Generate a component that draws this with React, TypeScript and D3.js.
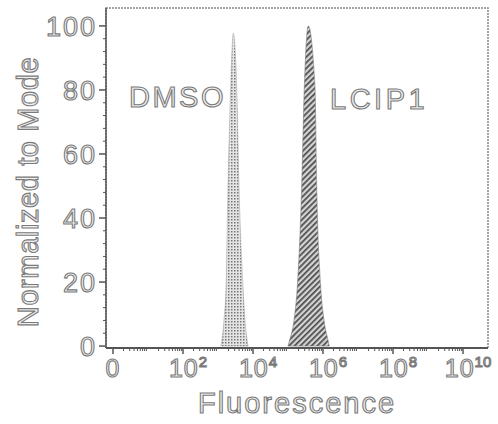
import React from "react";
import * as d3 from "d3";

// Peak shapes: x = log10 fluorescence exponent, y = % of mode
const dmsoX = [3.08, 3.106, 3.171, 3.229, 3.286, 3.363, 3.437, 3.534, 3.6, 3.714, 3.771, 3.837, 3.86];
const dmsoY = [0, 1.5, 8.1, 18.5, 49.8, 81, 97.7, 81, 49.8, 18.5, 8.1, 1.5, 0];
const lcipX = [5.0, 5.037, 5.171, 5.266, 5.391, 5.466, 5.58, 5.771, 5.82, 5.934, 6.029, 6.151, 6.18];
const lcipY = [0, 1.5, 8.1, 18.5, 49.8, 81, 100, 81, 49.8, 18.5, 8.1, 1.5, 0];

const yTicks = [0, 20, 40, 60, 80, 100];
const xTickExps = [0, 2, 4, 6, 8, 10];
const xTickLabels = ["0", "10", "10", "10", "10", "10"];
const xTickSups = ["", "2", "4", "6", "8", "10"];
const labels = ["DMSO", "LCIP1"];

const W = 498, H = 424;
const L = 106, R = 488, T = 8, B = 348;

export default function App() {
  const x = d3.scaleLinear().domain([-0.2, 10.714]).range([L, R]);
  const y = d3.scaleLinear().domain([-0.6, 105.6]).range([B, T]);
  const area = d3
    .area<[number, number]>()
    .x((d) => x(d[0]))
    .y0(y(0))
    .y1((d) => y(d[1]))
    .curve(d3.curveMonotoneX);
  const dmso = dmsoX.map((v, i) => [v, dmsoY[i]] as [number, number]);
  const lcip = lcipX.map((v, i) => [v, lcipY[i]] as [number, number]);

  const yMinor = d3.range(0, 104, 4).filter((v) => v % 20 !== 0);
  const xMinor: number[] = [];
  for (let k = 0; k < 10; k++) {
    for (let m = 2; m <= 9; m++) xMinor.push(k + Math.log10(m));
  }
  const axisColor = "#555";
  const textStyle = {
    fontFamily: "Liberation Sans, Arial, sans-serif",
    fill: "#f0f0f0",
    stroke: "#7a7a7a",
    strokeWidth: 1.1,
  } as const;

  return (
    <svg width={W} height={H} style={{ position: "absolute", left: 0, top: 0, background: "#fff" }}>
      <defs>
        <pattern id="dots" width="3" height="3" patternUnits="userSpaceOnUse">
          <rect width="3" height="3" fill="#e4e4e4" />
          <rect width="1.5" height="1.5" fill="#777" />
        </pattern>
        <pattern id="hatch" width="4" height="4" patternUnits="userSpaceOnUse" patternTransform="rotate(45)">
          <rect width="4" height="4" fill="#d4d4d4" />
          <rect width="1.7" height="4" fill="#4a4a4a" />
        </pattern>
      </defs>
      {/* frame */}
      <rect x={L} y={T} width={R - L} height={B - T} fill="none" stroke="#888" strokeWidth={1.5} strokeDasharray="2 1" />
      {/* peaks */}
      <path d={area(dmso) || ""} fill="url(#dots)" stroke="#aaa" strokeWidth={0.6} />
      <path d={area(lcip) || ""} fill="url(#hatch)" stroke="#777" strokeWidth={0.6} />
      {/* axes */}
      <line x1={L} x2={L} y1={T} y2={B} stroke={axisColor} strokeWidth={1.5} />
      <line x1={L} x2={R} y1={B} y2={B} stroke={axisColor} strokeWidth={1.8} />
      {yTicks.map((t) => (
        <line key={"yt" + t} x1={L - 7} x2={L} y1={y(t)} y2={y(t)} stroke={axisColor} strokeWidth={1.5} />
      ))}
      {yMinor.map((t) => (
        <line key={"ym" + t} x1={L - 3} x2={L} y1={y(t)} y2={y(t)} stroke={axisColor} strokeWidth={1} />
      ))}
      {xTickExps.map((t) => (
        <line key={"xt" + t} x1={x(t)} x2={x(t)} y1={B} y2={B + 6} stroke={axisColor} strokeWidth={1.5} />
      ))}
      {xMinor.map((t, i) => (
        <line key={"xm" + i} x1={x(t)} x2={x(t)} y1={B} y2={B + 3} stroke={axisColor} strokeWidth={1} />
      ))}
      {/* y tick labels */}
      {yTicks.map((t) => (
        <text key={"yl" + t} x={L - 9} y={y(t)} dy="0.36em" textAnchor="end" fontSize={27} letterSpacing={2} {...textStyle}>
          {t}
        </text>
      ))}
      {/* x tick labels */}
      {xTickExps.map((t, i) => (
        <text key={"xl" + t} x={x(t) + (i === 0 ? 0 : 5)} y={B + 29} textAnchor="middle" fontSize={25} letterSpacing={1} {...textStyle}>
          {xTickLabels[i]}
          {xTickSups[i] && (
            <tspan fontSize={15} dy={-10} letterSpacing={0}>
              {xTickSups[i]}
            </tspan>
          )}
        </text>
      ))}
      {/* titles */}
      <text x={297} y={413} textAnchor="middle" fontSize={29} letterSpacing={2} {...textStyle}>
        Fluorescence
      </text>
      <text
        transform={`translate(38, 192) rotate(-90)`}
        textAnchor="middle"
        fontSize={29}
        letterSpacing={0.6}
        {...textStyle}
      >
        Normalized to Mode
      </text>
      {/* peak labels */}
      <text x={129} y={107} fontSize={29} letterSpacing={2.5} {...textStyle}>
        {labels[0]}
      </text>
      <text x={330} y={109} fontSize={29} letterSpacing={3.5} {...textStyle}>
        {labels[1]}
      </text>
    </svg>
  );
}
